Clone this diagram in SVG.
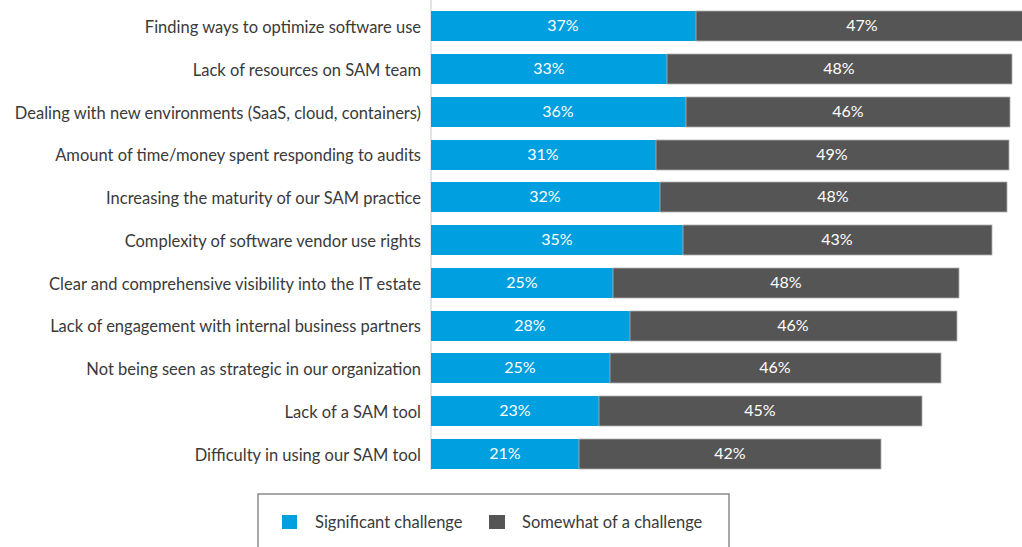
<svg xmlns="http://www.w3.org/2000/svg" width="1022" height="547" viewBox="0 0 1022 547">
<style>
.lbl{font-family:"Lato","Liberation Sans",sans-serif;font-size:16.5px;fill:#3a3a3a;text-anchor:end}
.val{font-family:"Lato","Liberation Sans",sans-serif;font-size:16px;fill:#ffffff;text-anchor:middle}
.b{fill:#009fdf}
.g{fill:#555555;stroke:#b0b0b0;stroke-width:0.8}
.leg{font-family:"Lato","Liberation Sans",sans-serif;font-size:16.5px;fill:#3a3a3a}
</style>
<rect width="1022" height="547" fill="#ffffff"/>
<g id="axis"><line x1="431" y1="0" x2="431" y2="470" stroke="#c8c8c8" stroke-width="1"/></g>
<g id="row1"><text class="lbl" x="421" y="33">Finding ways to optimize software use</text><rect class="b" x="431" y="11" width="265" height="30"/><rect class="g" x="696" y="11" width="330" height="30"/><text class="val" x="563" y="31">37%</text><text class="val" x="862" y="31">47%</text></g>
<g id="row2"><text class="lbl" x="421" y="76">Lack of resources on SAM team</text><rect class="b" x="431" y="54" width="236" height="30"/><rect class="g" x="667" y="54" width="345" height="30"/><text class="val" x="549" y="74">33%</text><text class="val" x="839" y="74">48%</text></g>
<g id="row3"><text class="lbl" x="421" y="119">Dealing with new environments (SaaS, cloud, containers)</text><rect class="b" x="431" y="97" width="255" height="30"/><rect class="g" x="686" y="97" width="324" height="30"/><text class="val" x="558" y="117">36%</text><text class="val" x="848" y="117">46%</text></g>
<g id="row4"><text class="lbl" x="421" y="161">Amount of time/money spent responding to audits</text><rect class="b" x="431" y="140" width="225" height="30"/><rect class="g" x="656" y="140" width="353" height="30"/><text class="val" x="543" y="160">31%</text><text class="val" x="832" y="160">49%</text></g>
<g id="row5"><text class="lbl" x="421" y="204">Increasing the maturity of our SAM practice</text><rect class="b" x="431" y="182" width="229" height="30"/><rect class="g" x="660" y="182" width="347" height="30"/><text class="val" x="545" y="202">32%</text><text class="val" x="833" y="202">48%</text></g>
<g id="row6"><text class="lbl" x="421" y="247">Complexity of software vendor use rights</text><rect class="b" x="431" y="225" width="252" height="30"/><rect class="g" x="683" y="225" width="309" height="30"/><text class="val" x="557" y="245">35%</text><text class="val" x="837" y="245">43%</text></g>
<g id="row7"><text class="lbl" x="421" y="290">Clear and comprehensive visibility into the IT estate</text><rect class="b" x="431" y="268" width="182" height="30"/><rect class="g" x="613" y="268" width="346" height="30"/><text class="val" x="522" y="288">25%</text><text class="val" x="786" y="288">48%</text></g>
<g id="row8"><text class="lbl" x="421" y="332">Lack of engagement with internal business partners</text><rect class="b" x="431" y="311" width="199" height="30"/><rect class="g" x="630" y="311" width="327" height="30"/><text class="val" x="530" y="331">28%</text><text class="val" x="793" y="331">46%</text></g>
<g id="row9"><text class="lbl" x="421" y="375">Not being seen as strategic in our organization</text><rect class="b" x="431" y="353" width="179" height="30"/><rect class="g" x="610" y="353" width="331" height="30"/><text class="val" x="520" y="373">25%</text><text class="val" x="775" y="373">46%</text></g>
<g id="row10"><text class="lbl" x="421" y="418">Lack of a SAM tool</text><rect class="b" x="431" y="396" width="168" height="30"/><rect class="g" x="599" y="396" width="323" height="30"/><text class="val" x="515" y="416">23%</text><text class="val" x="760" y="416">45%</text></g>
<g id="row11"><text class="lbl" x="421" y="461">Difficulty in using our SAM tool</text><rect class="b" x="431" y="439" width="148" height="30"/><rect class="g" x="579" y="439" width="302" height="30"/><text class="val" x="505" y="459">21%</text><text class="val" x="730" y="459">42%</text></g>
<g id="legend">
<rect x="258" y="494" width="471" height="60" fill="none" stroke="#6e6e6e" stroke-width="1.2"/>
<rect x="282" y="515" width="15" height="14" fill="#009fdf"/>
<text class="leg" x="315" y="528">Significant challenge</text>
<rect x="489" y="515" width="16" height="14" fill="#555555"/>
<text class="leg" x="522" y="528">Somewhat of a challenge</text>
</g>
</svg>
